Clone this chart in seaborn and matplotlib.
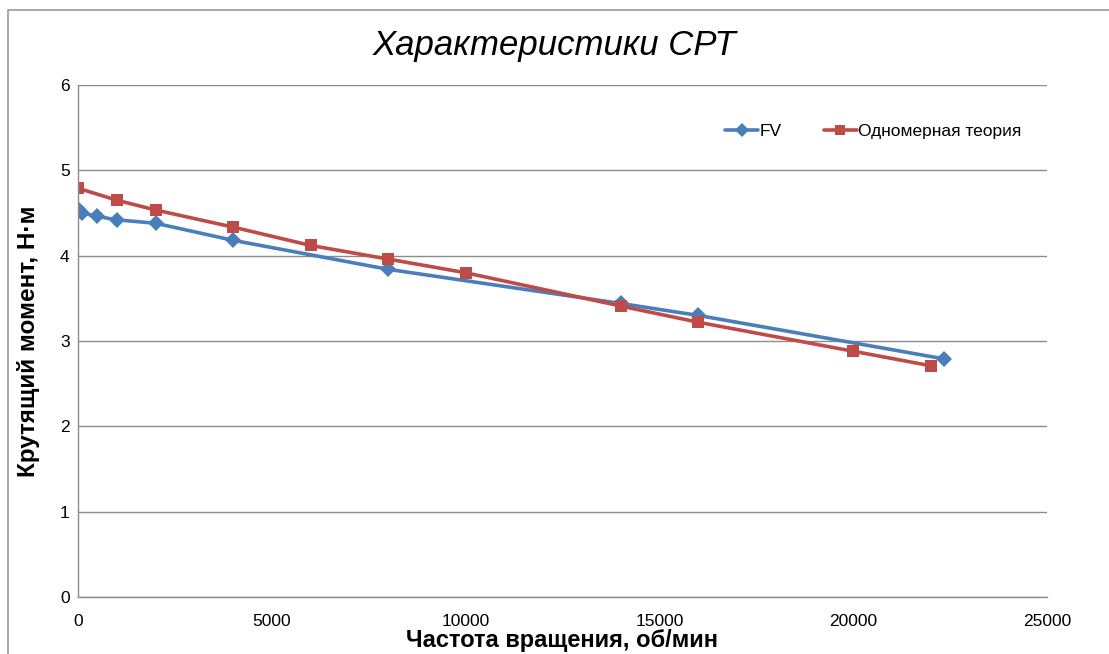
import matplotlib
matplotlib.use("Agg")
import matplotlib.pyplot as plt
import seaborn as sns
import pandas as pd
from matplotlib.patches import Rectangle

fv_x = [0, 100, 500, 1000, 2000, 4000, 8000, 14000, 16000, 22350]
fv_y = [4.55, 4.50, 4.46, 4.42, 4.38, 4.18, 3.84, 3.44, 3.30, 2.79]
th_x = [0, 1000, 2000, 4000, 6000, 8000, 10000, 14000, 16000, 20000, 22000]
th_y = [4.79, 4.65, 4.535, 4.335, 4.12, 3.96, 3.80, 3.41, 3.22, 2.88, 2.71]
series_names = ["FV", "Одномерная теория"]
title = "Характеристики СРТ"
xlabel = "Частота вращения, об/мин"
ylabel = "Крутящий момент, Н·м"
xticks = [0, 5000, 10000, 15000, 20000, 25000]
yticks = [0, 1, 2, 3, 4, 5, 6]

sns.set_style("white")
plt.rcParams['font.family'] = ['Liberation Sans', 'DejaVu Sans']
plt.rcParams['text.color'] = 'black'
plt.rcParams['axes.labelcolor'] = 'black'
plt.rcParams['xtick.color'] = 'black'
plt.rcParams['ytick.color'] = 'black'

df = pd.concat([
    pd.DataFrame({"x": fv_x, "y": fv_y, "s": series_names[0]}),
    pd.DataFrame({"x": th_x, "y": th_y, "s": series_names[1]}),
])

fig = plt.figure(figsize=(11.09, 6.54), dpi=100)
ax = fig.add_axes([78/1109, 1-597/654, (1047-78)/1109, (597-85)/654])
fig.patches.append(Rectangle((8/1109, -0.01), 1.1, 1-10/654+0.01, transform=fig.transFigure,
                             fill=False, edgecolor="#9a9a9a", linewidth=1.2))

palette = {series_names[0]: "#4A7EBB", series_names[1]: "#BE4B48"}
markers = {series_names[0]: "D", series_names[1]: "s"}
sns.lineplot(data=df, x="x", y="y", hue="s", style="s", palette=palette, markers=markers,
             dashes=False, linewidth=2.6, markersize=8, markeredgewidth=0, ax=ax, sort=False)

ax.set_xlim(0, 25000)
ax.set_ylim(0, 6)
ax.set_xticks(xticks)
ax.set_yticks(yticks)
ax.set_xticklabels([str(t) for t in xticks], fontsize=12.5)
ax.set_yticklabels([str(t) for t in yticks], fontsize=12.5)
ax.tick_params(axis='both', length=0)
ax.tick_params(axis='y', pad=6)
ax.tick_params(axis='x', pad=12)
ax.grid(axis='y', color="#8c8c8c", linewidth=1)
ax.set_axisbelow(True)
for s in ["top", "right"]:
    ax.spines[s].set_visible(False)
for s in ["left", "bottom"]:
    ax.spines[s].set_color("#8c8c8c")
    ax.spines[s].set_linewidth(1)

ax.set_xlabel(xlabel, fontsize=17, fontweight="bold", labelpad=0)
ax.set_ylabel(ylabel, fontsize=17.5, fontweight="bold", labelpad=14)
fig.text(0.5, 1-45/654, title, fontsize=25, fontstyle="italic", ha="center", va="center")

leg = ax.legend(loc="upper right", bbox_to_anchor=(0.99, 0.955), ncol=2, frameon=False,
                fontsize=12.5, handlelength=1.9, handletextpad=0.1, columnspacing=2.4, markerscale=0.9)

fig.savefig("out.png", dpi=100, facecolor="white")
